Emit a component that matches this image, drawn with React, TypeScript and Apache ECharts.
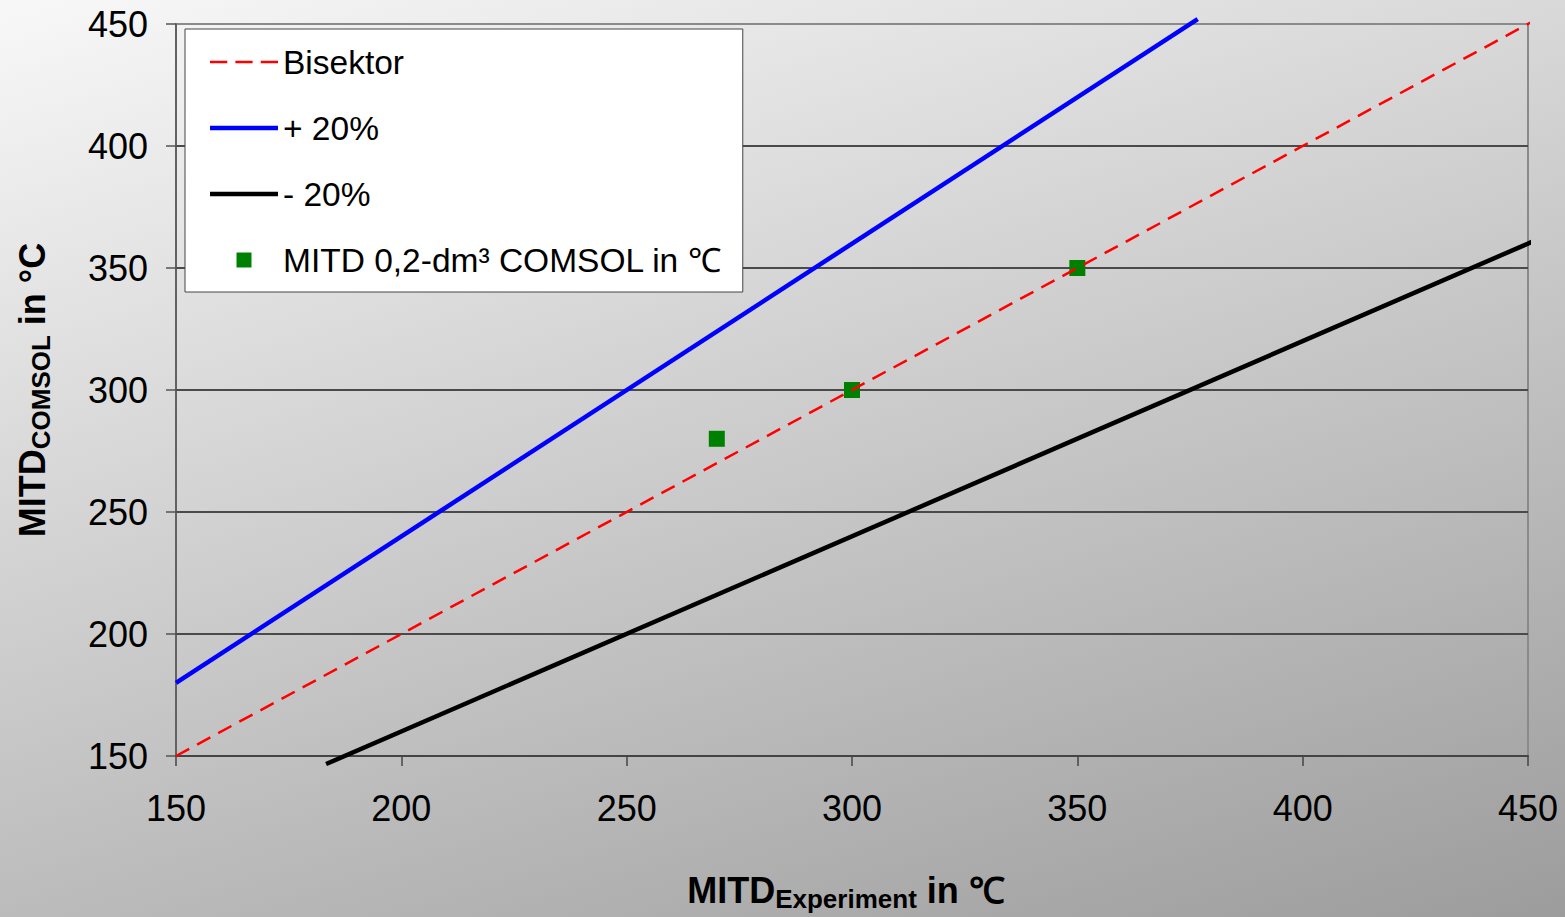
import React, { useEffect, useRef } from "react";
import * as echarts from "echarts";

const axisTicks = [150, 200, 250, 300, 350, 400, 450];
const bisektor: [number, number][] = [[150, 150], [452, 452]];
const plus20: [number, number][] = [[150, 180], [376.7, 452]];
const minus20: [number, number][] = [[183.3, 146.7], [452, 361.6]];
const comsolPoints: [number, number][] = [[270, 280], [300, 300], [350, 350]];
const seriesNames = ["Bisektor", "+ 20%", "- 20%", "MITD 0,2-dm³ COMSOL in ℃"];

const FONT = "'Liberation Sans', Arial, sans-serif";

const ICON_DASH = "path://M0,0h17v2.5h-17zM25,0h17v2.5h-17zM50,0h17v2.5h-17z";
const ICON_SOLID = "path://M0,0h68v4.5h-68z";
const ICON_SQUARE = "path://M0,0h15v15h-15z";

export default function App() {
  const ref = useRef<HTMLDivElement>(null);
  useEffect(() => {
    if (!ref.current) return;
    const chart = echarts.init(ref.current, null, { renderer: "svg" });
    const richTitle = {
      a: { fontSize: 36, fontWeight: "bold", color: "#000", fontFamily: FONT, lineHeight: 44, verticalAlign: "middle" },
      b: { fontSize: 26, fontWeight: "bold", color: "#000", fontFamily: FONT, lineHeight: 26, verticalAlign: "bottom" },
    };
    chart.setOption({
      animation: false,
      backgroundColor: {
        type: "linear",
        x: 0,
        y: 0,
        x2: 0.726,
        y2: 1.41,
        colorStops: [
          { offset: 0, color: "#f8f8f8" },
          { offset: 1, color: "#8c8c8c" },
        ],
      },
      textStyle: { fontFamily: FONT },
      grid: {
        left: 176,
        right: 37,
        top: 24,
        bottom: 160,
        show: true,
        borderColor: "#8a8a8a",
        borderWidth: 2,
        backgroundColor: "transparent",
      },
      legend: {
        orient: "vertical",
        left: 185,
        top: 29,
        padding: [16, 21, 15, 25],
        backgroundColor: "#ffffff",
        borderColor: "#444",
        borderWidth: 1,
        itemWidth: 68,
        itemHeight: 15,
        itemGap: 32,
        textStyle: { fontSize: 33.5, color: "#000", fontFamily: FONT },
        data: [
          { name: seriesNames[0], icon: ICON_DASH },
          { name: seriesNames[1], icon: ICON_SOLID },
          { name: seriesNames[2], icon: ICON_SOLID },
          { name: seriesNames[3], icon: ICON_SQUARE },
        ],
      },
      xAxis: {
        type: "value",
        min: axisTicks[0],
        max: axisTicks[axisTicks.length - 1],
        interval: 50,
        name: "{a|MITD}{b|Experiment}{a| in ℃}",
        nameLocation: "middle",
        nameGap: 112,
        nameTextStyle: { rich: richTitle, padding: [0, 12, 0, 0] },
        axisLine: { show: true, lineStyle: { color: "#444", width: 2 } },
        axisTick: { show: true, length: 10, lineStyle: { color: "#444", width: 1.5 } },
        axisLabel: { fontSize: 36, color: "#000", margin: 34, fontFamily: FONT },
        splitLine: { show: false },
      },
      yAxis: {
        type: "value",
        min: axisTicks[0],
        max: axisTicks[axisTicks.length - 1],
        interval: 50,
        name: "{a|MITD}{b|COMSOL}{a| in °C}",
        nameLocation: "middle",
        nameRotate: 90,
        nameGap: 122,
        nameTextStyle: { rich: richTitle },
        axisLine: { show: true, lineStyle: { color: "#555", width: 1.5 } },
        axisTick: { show: true, length: 10, lineStyle: { color: "#555", width: 1.5 } },
        axisLabel: { fontSize: 36, color: "#000", margin: 28, fontFamily: FONT },
        splitLine: { show: true, showMinLine: false, showMaxLine: false, lineStyle: { color: "#4a4a4a", width: 2 } },
      },
      series: [
        {
          name: seriesNames[0],
          type: "line",
          data: bisektor,
          showSymbol: false,
          symbol: "none",
          clip: false,
          lineStyle: { color: "#ff0000", width: 2.5, type: [15, 9] },
          itemStyle: { color: "#ff0000" },
        },
        {
          name: seriesNames[1],
          type: "line",
          data: plus20,
          showSymbol: false,
          symbol: "none",
          clip: false,
          lineStyle: { color: "#0000ff", width: 4.5 },
          itemStyle: { color: "#0000ff" },
        },
        {
          name: seriesNames[2],
          type: "line",
          data: minus20,
          showSymbol: false,
          symbol: "none",
          clip: false,
          lineStyle: { color: "#000000", width: 4.5 },
          itemStyle: { color: "#000000" },
        },
        {
          name: seriesNames[3],
          type: "scatter",
          data: comsolPoints,
          symbol: "rect",
          symbolSize: 16,
          itemStyle: { color: "#008000", opacity: 1 },
        },
      ],
    });
    return () => chart.dispose();
  }, []);
  return (
    <div
      ref={ref}
      style={{ position: "absolute", left: 0, top: 0, width: 1565, height: 917 }}
    />
  );
}
